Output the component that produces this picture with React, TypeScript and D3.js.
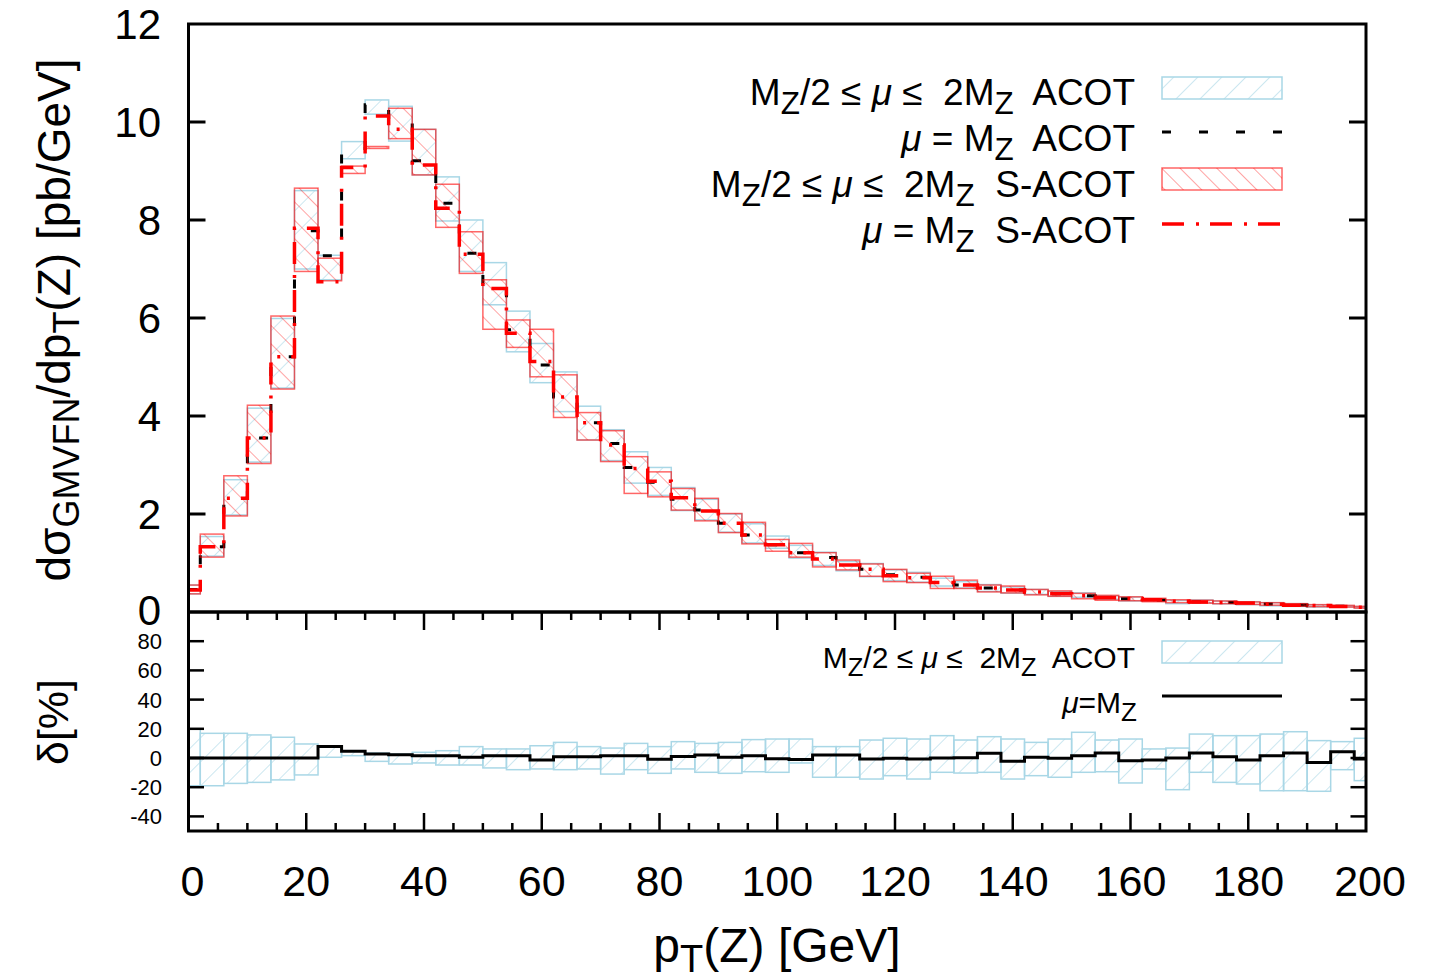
import { useMemo } from "react";
import * as d3 from "d3";

// bin centres in GeV (histeps, 4 GeV wide)
const PT = [0, 4, 8, 12, 16, 20, 24, 28, 32, 36, 40, 44, 48, 52, 56, 60, 64, 68, 72, 76, 80, 84, 88, 92, 96, 100,
  104, 108, 112, 116, 120, 124, 128, 132, 136, 140, 144, 148, 152, 156, 160, 164, 168, 172, 176, 180, 184, 188, 192, 196, 200];

// mu = M_Z, ACOT
const ACOT = [0.46, 1.33, 2.32, 3.55, 5.21, 7.78, 7.27, 9.46, 10.35, 10.05, 9.21, 8.34, 7.32, 6.68, 5.76, 5.04, 4.39, 3.86, 3.44, 2.95,
  2.65, 2.30, 2.08, 1.81, 1.57, 1.37, 1.21, 1.11, 0.96, 0.87, 0.76, 0.71, 0.60, 0.55, 0.49, 0.45, 0.41, 0.37, 0.33, 0.29,
  0.27, 0.245, 0.22, 0.21, 0.195, 0.18, 0.163, 0.145, 0.13, 0.116, 0.098];
// M_Z/2 <= mu <= 2M_Z, ACOT
const ACOT_LO = [0.37, 1.14, 1.98, 3.06, 4.57, 7.00, 6.78, 9.25, 10.16, 9.61, 8.92, 7.98, 6.95, 6.27, 5.31, 4.68, 4.09, 3.51, 3.09, 2.63,
  2.38, 2.07, 1.88, 1.63, 1.41, 1.30, 1.10, 0.95, 0.84, 0.72, 0.64, 0.61, 0.53, 0.49, 0.42, 0.385, 0.36, 0.32, 0.30, 0.26,
  0.225, 0.225, 0.17, 0.19, 0.165, 0.15, 0.125, 0.115, 0.10, 0.105, 0.083];
const ACOT_HI = [0.55, 1.54, 2.70, 4.16, 5.99, 8.60, 7.28, 9.60, 10.45, 10.32, 9.85, 8.88, 8.00, 7.13, 6.14, 5.48, 4.90, 4.20, 3.72, 3.27,
  2.95, 2.54, 2.30, 2.00, 1.80, 1.55, 1.36, 1.22, 1.03, 0.99, 0.86, 0.81, 0.69, 0.62, 0.56, 0.51, 0.46, 0.42, 0.39, 0.33,
  0.305, 0.26, 0.235, 0.245, 0.225, 0.21, 0.19, 0.17, 0.145, 0.13, 0.111];

// mu = M_Z, S-ACOT
const SACOT = [0.45, 1.33, 2.32, 3.55, 5.21, 7.83, 6.74, 9.07, 10.12, 9.85, 9.12, 8.24, 7.30, 6.60, 5.69, 5.11, 4.39, 3.86, 3.41, 2.93,
  2.67, 2.33, 2.06, 1.81, 1.57, 1.37, 1.21, 1.08, 0.96, 0.87, 0.74, 0.70, 0.60, 0.55, 0.49, 0.45, 0.41, 0.37, 0.33, 0.29,
  0.275, 0.25, 0.22, 0.205, 0.195, 0.183, 0.16, 0.14, 0.134, 0.112, 0.099];
const SACOT_LO = [0.37, 1.12, 1.96, 3.03, 4.55, 6.95, 6.76, 8.95, 9.46, 9.66, 8.92, 7.85, 6.91, 5.77, 5.40, 4.80, 3.97, 3.51, 3.07, 2.42,
  2.35, 2.08, 1.86, 1.62, 1.39, 1.24, 1.12, 0.92, 0.86, 0.73, 0.62, 0.60, 0.48, 0.48, 0.41, 0.39, 0.35, 0.32, 0.27, 0.24,
  0.23, 0.21, 0.19, 0.18, 0.17, 0.155, 0.14, 0.12, 0.11, 0.10, 0.08];
const SACOT_HI = [0.55, 1.59, 2.78, 4.22, 6.04, 8.65, 7.22, 9.10, 9.50, 10.28, 9.85, 8.73, 7.76, 6.78, 5.96, 5.77, 4.84, 4.07, 3.70, 3.17,
  2.86, 2.52, 2.32, 2.01, 1.83, 1.48, 1.40, 1.21, 1.06, 0.98, 0.87, 0.79, 0.73, 0.65, 0.55, 0.53, 0.46, 0.43, 0.38, 0.34,
  0.31, 0.28, 0.25, 0.24, 0.225, 0.205, 0.19, 0.17, 0.15, 0.135, 0.115];

// lower panel, delta [%]
const DELTA = [0, 0, 0, 0, 0, 0, 7.8, 4.6, 2.7, 2.3, 1.6, 1.6, 0.5, 1.6, 1.6, -1.4, 0.9, 0.9, 1.6, 1.6,
  -0.9, 1.1, 2.1, 0.5, 1.6, -0.5, -1.1, 2.1, 2.1, -0.7, -0.2, -0.7, 0, 0.2, 3.2, -2.3, 0.5, -0.2, 1.6, 3.4,
  -1.8, -1.4, 0, 3.4, 0.9, -1.4, 1.6, 3.4, -3, 4.3, -0.7];
const DELTA_HI = [19.9, 16.9, 16.9, 15.8, 14.2, 9.6, 7.5, 5.0, 3.4, 2.7, 3.9, 5.0, 7.8, 6.2, 6.2, 8.4, 10.7, 7.8, 6.8, 10.0,
  7.8, 11.2, 10.0, 10.7, 12.6, 13.0, 13.0, 7.8, 7.8, 12.3, 13.5, 13.0, 15.3, 12.3, 14.6, 13.0, 10.7, 13.0, 17.6, 12.3,
  13.0, 6.2, 6.8, 16.4, 15.3, 15.3, 16.4, 18.0, 11.9, 11.2, 13.5];
const DELTA_LO = [-19, -19, -17.4, -16.7, -15, -11.6, 0.5, 1.6, -2.3, -4.1, -3.4, -4.8, -4.8, -6.8, -8, -7.5, -8, -7.5, -11, -8,
  -10.5, -7.5, -9.8, -10.5, -9.4, -9.8, -3.4, -13.2, -13.2, -14.4, -12.1, -14.4, -9.8, -10.3, -9.8, -14.4, -12.1, -13.2, -9.8, -9.4,
  -17.1, -7.5, -21.7, -9.8, -16.7, -17.8, -22.4, -22.4, -22.8, -8, -15.5];

const MAIN_YTICKS = [0, 2, 4, 6, 8, 10, 12];
const RATIO_YTICKS = [-40, -20, 0, 20, 40, 60, 80];
const XTICKS = [0, 20, 40, 60, 80, 100, 120, 140, 160, 180, 200];

const FONT = "'Liberation Sans', Arial, Helvetica, sans-serif";
const BLUE = "#a9d7e6";
const RED = "rgba(255,0,0,0.6)";

const x = d3.scaleLinear().domain([0, 200]).range([188.5, 1366]);
const yMain = d3.scaleLinear().domain([0, 12]).range([612, 24]);
const yRat = d3.scaleLinear().domain([-50, 100]).range([831, 612]);

const binLo = (p: number) => Math.max(0, p - 2);
const binHi = (p: number) => Math.min(200, p + 2);

function stepPath(vals: number[], y: d3.ScaleLinear<number, number>) {
  const pts: [number, number][] = PT.map((p, i) => [binLo(p), vals[i]]);
  pts.push([200, vals[vals.length - 1]]);
  return d3.line<[number, number]>()
    .x((d) => x(d[0]))
    .y((d) => y(d[1]))
    .curve(d3.curveStepAfter)(pts) as string;
}

const Band = ({ lo, hi, y, fill, stroke }: any) => (
  <g>
    {PT.map((p, i) => {
      const y0 = y(hi[i]), y1 = y(lo[i]);
      return (
        <rect key={i} x={x(binLo(p))} y={y0} width={x(binHi(p)) - x(binLo(p))} height={Math.max(0.5, y1 - y0)}
          fill={fill} stroke={stroke} strokeWidth={1.5} />
      );
    })}
  </g>
);

const BandLabel = ({ x0, y0, size, tail }: any) => {
  const s = size * 0.85, d = size * 0.25;
  return (
    <text x={x0} y={y0} textAnchor="end" fontSize={size} style={{ whiteSpace: "pre" }}>
      <tspan>M</tspan>
      <tspan dy={d} fontSize={s}>Z</tspan>
      <tspan dy={-d}>/2 ≤ </tspan>
      <tspan fontStyle="italic">μ</tspan>
      <tspan> ≤  2M</tspan>
      <tspan dy={d} fontSize={s}>Z</tspan>
      <tspan dy={-d}>{"  " + tail}</tspan>
    </text>
  );
};

const MuLabel = ({ x0, y0, size, tail }: any) => {
  const s = size * 0.85, d = size * 0.25;
  return (
    <text x={x0} y={y0} textAnchor="end" fontSize={size} style={{ whiteSpace: "pre" }}>
      <tspan fontStyle="italic">μ</tspan>
      <tspan> = M</tspan>
      <tspan dy={d} fontSize={s}>Z</tspan>
      <tspan dy={-d}>{"  " + tail}</tspan>
    </text>
  );
};

export default function App() {
  const paths = useMemo(() => ({
    acot: stepPath(ACOT, yMain),
    sacot: stepPath(SACOT, yMain),
    delta: stepPath(DELTA, yRat),
  }), []);

  const minorX = d3.range(0, 201, 5);

  return (
    <svg width={1430} height={979} style={{ position: "absolute", left: 0, top: 0, background: "#fff" }}
      fontFamily={FONT}>
      <defs>
        <pattern id="hBlue" patternUnits="userSpaceOnUse" width={17} height={17} patternTransform="rotate(45)">
          <line x1={0} y1={0} x2={0} y2={17} stroke={BLUE} strokeWidth={1.2} />
        </pattern>
        <pattern id="hRed" patternUnits="userSpaceOnUse" width={13} height={13} patternTransform="rotate(-45)">
          <line x1={0} y1={0} x2={0} y2={13} stroke={RED} strokeWidth={1.2} />
        </pattern>
        <clipPath id="clipMain"><rect x={188.5} y={24} width={1177.5} height={588} /></clipPath>
        <clipPath id="clipRat"><rect x={188.5} y={612} width={1177.5} height={219} /></clipPath>
      </defs>

      {/* main panel */}
      <g clipPath="url(#clipMain)">
        <Band lo={ACOT_LO} hi={ACOT_HI} y={yMain} fill="url(#hBlue)" stroke={BLUE} />
        <path d={paths.acot} fill="none" stroke="#000" strokeWidth={3} strokeDasharray="9 28" />
        <Band lo={SACOT_LO} hi={SACOT_HI} y={yMain} fill="url(#hRed)" stroke={RED} />
        <path d={paths.sacot} fill="none" stroke="#f00" strokeWidth={3.5} strokeDasharray="22 12 3 11" />
      </g>

      {/* ratio panel */}
      <g clipPath="url(#clipRat)">
        <Band lo={DELTA_LO} hi={DELTA_HI} y={yRat} fill="url(#hBlue)" stroke={BLUE} />
        <path d={paths.delta} fill="none" stroke="#000" strokeWidth={3} />
      </g>

      {/* frames */}
      <rect x={188.5} y={24} width={1177.5} height={588} fill="none" stroke="#000" strokeWidth={3} />
      <rect x={188.5} y={612} width={1177.5} height={219} fill="none" stroke="#000" strokeWidth={3} />

      {/* main y ticks */}
      {MAIN_YTICKS.map((t) => (
        <g key={"my" + t}>
          {t > 0 && t < 12 && (
            <>
              <line x1={188.5} x2={205.5} y1={yMain(t)} y2={yMain(t)} stroke="#000" strokeWidth={3} />
              <line x1={1366} x2={1349} y1={yMain(t)} y2={yMain(t)} stroke="#000" strokeWidth={3} />
            </>
          )}
          <text x={161} y={yMain(t) + (t === 0 ? 13 : 15)} textAnchor="end" fontSize={42}>{t}</text>
        </g>
      ))}

      {/* ratio y ticks */}
      {RATIO_YTICKS.map((t) => (
        <g key={"ry" + t}>
          <line x1={188.5} x2={204} y1={yRat(t)} y2={yRat(t)} stroke="#000" strokeWidth={2.5} />
          <line x1={1366} x2={1350.5} y1={yRat(t)} y2={yRat(t)} stroke="#000" strokeWidth={2.5} />
          <text x={162} y={yRat(t) + 8} textAnchor="end" fontSize={22}>{t}</text>
        </g>
      ))}

      {/* ratio x ticks (top and bottom) */}
      {minorX.filter((t) => t > 0 && t < 200).map((t) => {
        const len = t % 20 === 0 ? 18 : 8;
        return (
          <g key={"rx" + t}>
            <line x1={x(t)} x2={x(t)} y1={612} y2={612 + len} stroke="#000" strokeWidth={2.5} />
            <line x1={x(t)} x2={x(t)} y1={831} y2={831 - len} stroke="#000" strokeWidth={2.5} />
          </g>
        );
      })}
      {XTICKS.map((t) => (
        <text key={"xl" + t} x={x(t) + (t === 0 ? 4 : t === 200 ? 4 : 0)} y={896} textAnchor="middle" fontSize={43}>{t}</text>
      ))}

      {/* axis titles */}
      <text transform="translate(70,320) rotate(-90)" textAnchor="middle" fontSize={46}>
        <tspan>dσ</tspan>
        <tspan dy={9} fontSize={36}>GMVFN</tspan>
        <tspan dy={-9}>/dp</tspan>
        <tspan dy={9} fontSize={36}>T</tspan>
        <tspan dy={-9}>(Z) [pb/GeV]</tspan>
      </text>
      <text transform="translate(68,722) rotate(-90)" textAnchor="middle" fontSize={43}>δ[%]</text>
      <text x={777} y={962} textAnchor="middle" fontSize={48}>
        <tspan>p</tspan>
        <tspan dy={10} fontSize={38}>T</tspan>
        <tspan dy={-10}>(Z) [GeV]</tspan>
      </text>

      {/* main legend */}
      <BandLabel x0={1135} y0={105} size={37} tail="ACOT" />
      <rect x={1162} y={77} width={120} height={22} fill="url(#hBlue)" stroke={BLUE} strokeWidth={1.5} />
      <MuLabel x0={1135} y0={151} size={37} tail="ACOT" />
      <line x1={1162} x2={1282} y1={132} y2={132} stroke="#000" strokeWidth={3} strokeDasharray="9 28" />
      <BandLabel x0={1135} y0={197} size={37} tail="S-ACOT" />
      <rect x={1162} y={168} width={120} height={22} fill="url(#hRed)" stroke={RED} strokeWidth={1.5} />
      <MuLabel x0={1135} y0={243} size={37} tail="S-ACOT" />
      <line x1={1162} x2={1282} y1={224} y2={224} stroke="#f00" strokeWidth={3.5} strokeDasharray="22 12 3 11" />

      {/* ratio legend */}
      <BandLabel x0={1135} y0={668} size={30} tail="ACOT" />
      <rect x={1162} y={641} width={120} height={22} fill="url(#hBlue)" stroke={BLUE} strokeWidth={1.5} />
      <text x={1137} y={713} textAnchor="end" fontSize={30}>
        <tspan fontStyle="italic">μ</tspan>
        <tspan>=M</tspan>
        <tspan dy={8} fontSize={26}>Z</tspan>
      </text>
      <line x1={1162} x2={1282} y1={696} y2={696} stroke="#000" strokeWidth={3} />
    </svg>
  );
}
